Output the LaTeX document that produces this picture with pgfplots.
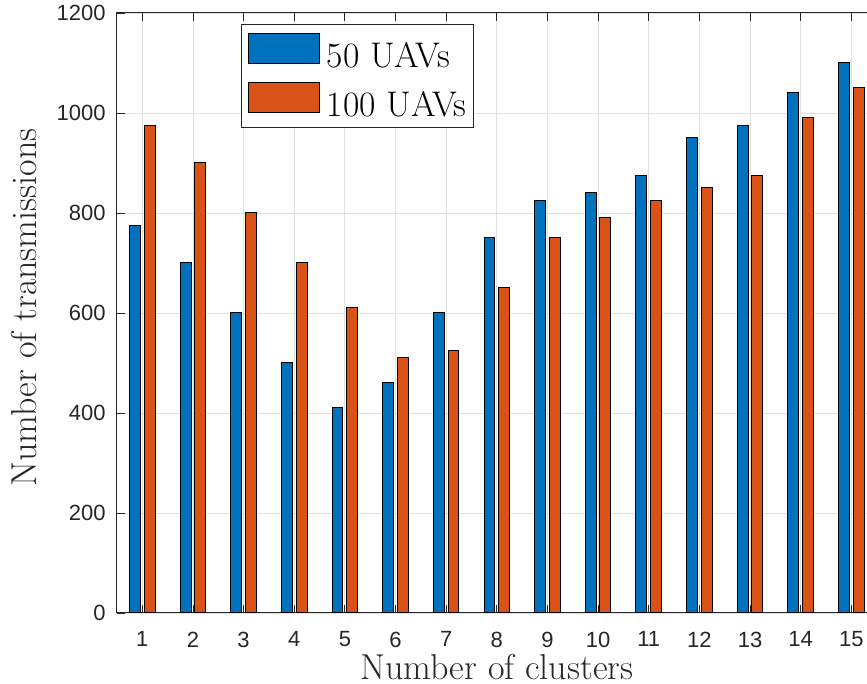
\documentclass[border=0pt]{standalone}
\usepackage{pgfplots}
\pgfplotsset{compat=1.18}
\usepackage{fontspec}
\newfontfamily\tickfont{Liberation Sans}
\definecolor{mblue}{HTML}{0072BD}
\definecolor{morange}{HTML}{D95319}
\definecolor{axgray}{HTML}{262626}
\pgfplotsset{
  mylegend/.style={legend image code/.code={\draw[##1] (0pt,-3.35pt) rectangle (35.3pt,11.65pt);}}
}
\begin{document}
\begin{tikzpicture}
\begin{axis}[
  at={(0,0)}, anchor=south west,
  scale only axis, width=379.8pt, height=300pt,
  xmin=0.5, xmax=15.5, ymin=0, ymax=1200,
  xtick={1,...,15}, ytick={0,200,...,1200},
  grid=major, major grid style={color=black!12, line width=0.4pt},
  tick align=inside, major tick length=3.8pt,
  tick style={color=axgray, line width=0.4pt},
  axis line style={color=axgray, line width=0.5pt},
  /pgf/number format/assume math mode=true,
  /pgf/number format/1000 sep={},
  xticklabel style={font=\tickfont\fontsize{11}{13}\selectfont, text=axgray, inner sep=0pt, anchor=north, yshift=-9.2pt},
  yticklabel style={font=\tickfont\fontsize{11}{13}\selectfont, text=axgray, inner sep=0pt, anchor=east, xshift=-5.5pt},
  every axis x label/.style={at={(axis description cs:0.5,-0.1105)}, anchor=base, inner sep=0pt, font=\fontsize{18}{21}\selectfont, text=axgray},
  every axis y label/.style={at={(axis description cs:-0.1057,0.509)}, anchor=base, rotate=90, inner sep=0pt, font=\fontsize{18}{21}\selectfont, text=axgray},
  xlabel={Number of clusters},
  ylabel={Number of transmissions},
  legend style={at={(axis description cs:0.1632,0.981)}, anchor=north west,
    draw=axgray, line width=0.5pt, inner xsep=3.4pt, inner ysep=4pt,
    row sep=5.5pt, font=\fontsize{17.8}{20}\selectfont,
    nodes={inner sep=0pt, anchor=west},
    /tikz/every odd column/.append style={column sep=3.4pt}},
]
\addplot[ybar, bar width=0.215, bar shift=-0.145, fill=mblue, draw=black, line width=0.5pt, mylegend]
  coordinates {(1,775) (2,700) (3,600) (4,500) (5,410) (6,460) (7,600) (8,750) (9,825) (10,840) (11,875) (12,950) (13,975) (14,1040) (15,1100)};
\addlegendentry{50 UAVs}
\addplot[ybar, bar width=0.215, bar shift=0.145, fill=morange, draw=black, line width=0.5pt, mylegend]
  coordinates {(1,975) (2,900) (3,800) (4,700) (5,610) (6,510) (7,525) (8,650) (9,750) (10,790) (11,825) (12,850) (13,875) (14,990) (15,1050)};
\addlegendentry{100 UAVs}
\end{axis}
\pgfresetboundingbox
\path[use as bounding box] (-58.5pt,-35.5pt) rectangle (375pt,306.5pt);
\end{tikzpicture}
\end{document}
